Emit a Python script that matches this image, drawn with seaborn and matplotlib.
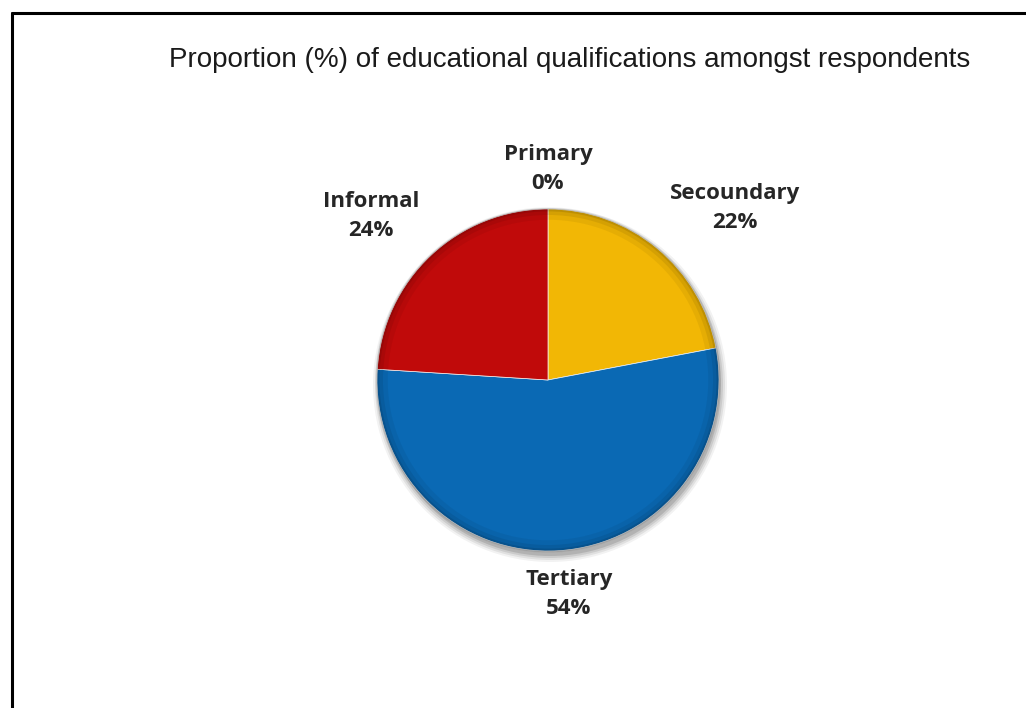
import matplotlib
matplotlib.use("Agg")
import matplotlib.pyplot as plt
from matplotlib.lines import Line2D
import seaborn as sns

# Educational qualifications of respondents (%)
categories = ["Primary", "Secoundary", "Tertiary", "Informal"]
shares = [0, 22, 54, 24]
colors = ["#4F81BD", "#F2B705", "#0A69B4", "#C00A0A"]

title = "Proportion (%) of educational qualifications amongst respondents"

sns.set_theme(style="white")
plt.rcParams["font.family"] = ["Liberation Sans", "DejaVu Sans"]

W, H = 1026, 708
fig = plt.figure(figsize=(W / 100, H / 100), dpi=100)
fig.patch.set_facecolor("white")

# Chart frame (left and top edges visible)
fig.add_artist(Line2D([12 / W, 12 / W], [0, 1 - 13 / H], color="black", lw=2.2))
fig.add_artist(Line2D([12 / W, 1], [1 - 13 / H, 1 - 13 / H], color="black", lw=2.2))

fig.text(570 / W, 1 - 60 / H, title, ha="center", va="center",
         fontsize=20, color="#1a1a1a")

# Pie area in pixel units, y pointing up
ax = fig.add_axes([0, 0, 1, 1])

cx, cy, r = 548, H - 380, 171

# Soft drop shadow under the whole pie
for dr, a in [(6, 0.05), (4, 0.07), (2, 0.09), (0, 0.12)]:
    ax.add_patch(plt.Circle((cx + 2, cy - 5), r + dr, color="black",
                            alpha=a, lw=0, zorder=0))

wedges, _ = ax.pie(shares, colors=colors, startangle=90, counterclock=False,
                   center=(cx, cy), radius=r,
                   wedgeprops=dict(linewidth=0.5, edgecolor="#f4f4f4", zorder=1))
wedges[0].set_linewidth(0)
ax.set_xlim(0, W)
ax.set_ylim(0, H)
ax.set_aspect("equal")
ax.axis("off")

# Bevel: soft dark rim just inside the edge
for lw, a in [(9, 0.05), (5, 0.07), (2, 0.10)]:
    ax.add_patch(plt.Circle((cx, cy), r - lw / 2, fill=False, lw=lw,
                            color="black", alpha=a, zorder=2))

# Category labels
label_pos = {
    "Primary": (548, H - 169),
    "Secoundary": (735, H - 208),
    "Tertiary": (569, H - 594),
    "Informal": (371, H - 216),
}
for name, val in zip(categories, shares):
    x, y = label_pos[name]
    ax.text(x, y, f"{name}\n{val}%", ha="center", va="center",
            fontsize=16, fontweight="bold", color="#262626",
            family=["Open Sans", "DejaVu Sans"], linespacing=1.55)

fig.savefig("out.png", dpi=100, facecolor="white")
